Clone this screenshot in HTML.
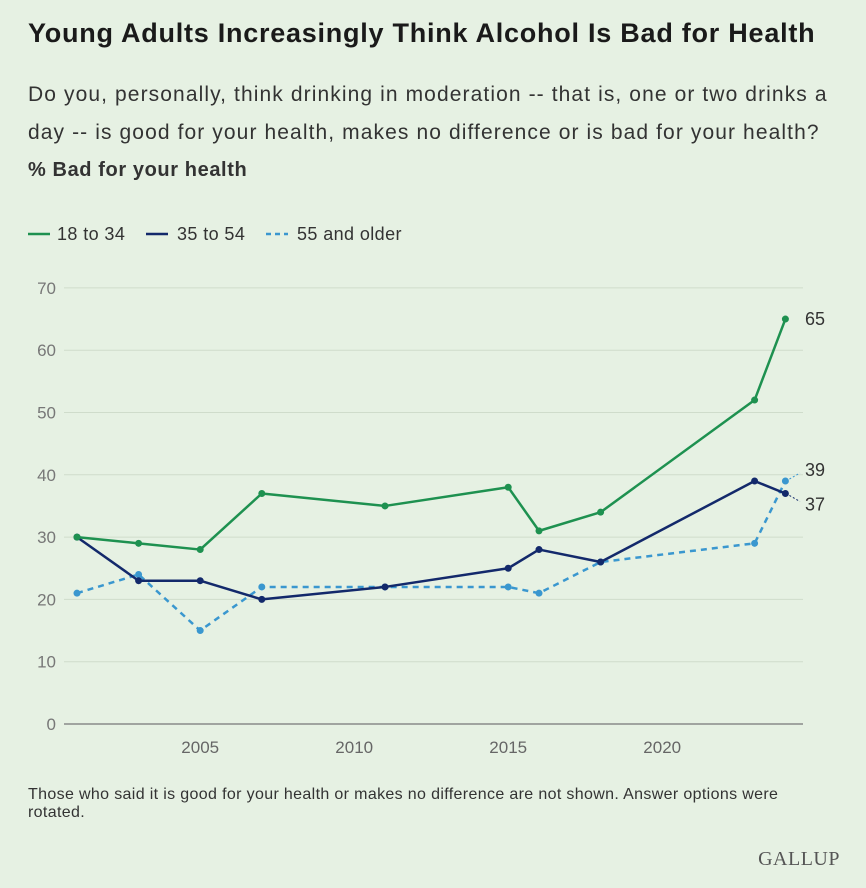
<!DOCTYPE html>
<html><head><meta charset="utf-8"><style>
body{margin:0;width:866px;height:888px;background:#e6f1e3;font-family:"Liberation Sans",sans-serif;color:#222;overflow:hidden;position:relative}
.t{position:absolute;left:28px;top:18px;font-size:27px;letter-spacing:0.75px;font-weight:bold;color:#1a1a1a;white-space:nowrap}
.s{position:absolute;left:28px;top:76px;font-size:21px;letter-spacing:1.1px;line-height:38px;color:#333;width:815px}
.b{position:absolute;left:28px;top:159px;font-size:20px;letter-spacing:0.6px;font-weight:bold;color:#333}
.n{position:absolute;left:28px;top:786px;font-size:16px;letter-spacing:0.35px;color:#333;width:805px;line-height:18px}
.g{position:absolute;right:26px;top:848px;font-family:"Liberation Serif",serif;font-size:20px;color:#555;letter-spacing:0.5px}
svg{position:absolute;left:0;top:0}
</style></head><body>
<div class="t">Young Adults Increasingly Think Alcohol Is Bad for Health</div>
<div class="s">Do you, personally, think drinking in moderation -- that is, one or two drinks a day -- is good for your health, makes no difference or is bad for your health?</div>
<div class="b">% Bad for your health</div>
<div class="n">Those who said it is good for your health or makes no difference are not shown. Answer options were rotated.</div>
<div class="g">GALLUP</div>
<svg id="c" width="866" height="888"></svg>
<script>
const years=[2001,2003,2005,2007,2011,2015,2016,2018,2023,2024];
const young=[30,29,28,37,35,38,31,34,52,65];
const mid=[30,23,23,20,22,25,28,26,39,37];
const old=[21,24,15,22,22,22,21,26,29,39];
const yTicks=[0,10,20,30,40,50,60,70];
const xTicks=[2005,2010,2015,2020];
const seriesNames=["18 to 34","35 to 54","55 and older"];
const NS="http://www.w3.org/2000/svg";
const svg=document.getElementById('c');
const X=v=>77+(v-2001)*30.8;
const Y=v=>724-v*6.23;
function mk(t,a,p){const e=document.createElementNS(NS,t);for(const k in a)e.setAttribute(k,a[k]);(p||svg).appendChild(e);return e;}
yTicks.forEach(v=>{
 const l=mk('line',{x1:64,x2:803,y1:Y(v),y2:Y(v),stroke:v?'#cfdccb':'#777','stroke-width':v?1:1.2});
 
 
 const t=mk('text',{x:56,y:Y(v)+6,'text-anchor':'end','font-size':17,fill:'#777'});t.textContent=v;
 
 
});
xTicks.forEach(v=>{
 const t=mk('text',{x:X(v),y:753,'text-anchor':'middle','font-size':17,fill:'#666'});t.textContent=v;
 
 
});
const defs=[[old,'#3a97cf','6,5',2.5,'series-55-older'],[mid,'#13296b','',2.5,'series-35-54'],[young,'#1e9150','',2.5,'series-18-34']];
defs.forEach(([d,c,dash,w,name])=>{
 const p=mk('polyline',{points:d.map((v,i)=>X(years[i])+','+Y(v)).join(' '),fill:'none',stroke:c,'stroke-width':w,'stroke-dasharray':dash,'stroke-linejoin':'round'});
 
 
 d.forEach((v,i)=>{const m=mk('circle',{cx:X(years[i]),cy:Y(v),r:3.5,fill:c});
  
  });
});
const li=years.length-1;
[[young[li],0,'#333'],[old[li],-11,'#333'],[mid[li],11,'#333']].forEach(([v,off,c])=>{
 const t=mk('text',{x:805,y:Y(v)+6+off,'font-size':18,fill:c});t.textContent=v;
 
 
});
mk('line',{x1:X(2024)+4,y1:Y(old[li])-2,x2:800,y2:Y(old[li])-8,stroke:'#3a97cf','stroke-dasharray':'2,2'});
mk('line',{x1:X(2024)+4,y1:Y(mid[li])+2,x2:800,y2:Y(mid[li])+8,stroke:'#13296b','stroke-dasharray':'2,2'});
const lg=[['#1e9150','',28,57],['#13296b','',146,177],['#3a97cf','5,4',266,297]];
lg.forEach(([c,dash,x,tx],i)=>{
 const l=mk('line',{x1:x,x2:x+22,y1:234,y2:234,stroke:c,'stroke-width':2.5,'stroke-dasharray':dash});
 
 
 const t=mk('text',{x:tx,y:240,'font-size':18,'letter-spacing':0.4,fill:'#333'});t.textContent=seriesNames[i];
 
 
});
</script>
</body></html>
